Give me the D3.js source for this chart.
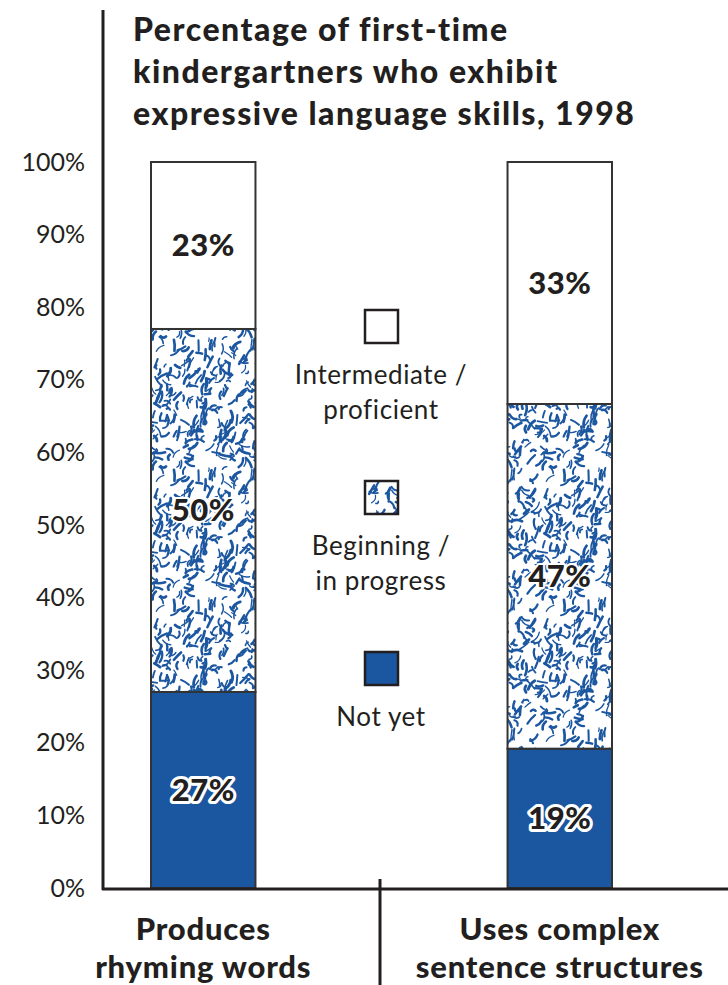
<!DOCTYPE html>
<html><head><meta charset="utf-8">
<script src="https://cdn.jsdelivr.net/npm/d3@7"></script>
<style>
html,body{margin:0;padding:0;background:#fff;}
svg{display:block;font-family:Lato,"Open Sans",sans-serif;}
</style></head>
<body>
<svg id="chart" width="728" height="985"></svg>
<script>
const categories = [["Produces", "rhyming words"], ["Uses complex", "sentence structures"]];
const seriesKeys = ["Not yet", "Beginning / in progress", "Intermediate / proficient"];
const notYet = [27, 19];
const beginning = [50, 47];
const intermediate = [23, 33];
const yTicks = [0, 10, 20, 30, 40, 50, 60, 70, 80, 90, 100];
const titleLines = ["Percentage of first-time", "kindergartners who exhibit", "expressive language skills, 1998"];
const legendLabels = [["Intermediate /", "proficient"], ["Beginning /", "in progress"], ["Not yet"]];

const blue = "#1b56a0";
const ink = "#231f20";
const svg = d3.select("#chart");

// Pattern for "Beginning / in progress"
const T = 130;
const defs = svg.append("defs");
const pat = defs.append("pattern").attr("id", "speckle").attr("patternUnits", "userSpaceOnUse")
  .attr("width", T).attr("height", T);
pat.append("rect").attr("width", T).attr("height", T).attr("fill", "#fff");
let seed = 12345;
function rnd() { seed = (seed * 16807) % 2147483647; return (seed - 1) / 2147483646; }
for (let i = 0; i < 300; i++) {
  const x = rnd() * T, y = rnd() * T;
  const r = rnd();
  const a = (r < 0.55 ? -1.05 : (r < 0.8 ? 0.5 : 2.0)) + (rnd() - 0.5) * 1.2;
  const len = 3 + rnd() * 9;
  const bend = (rnd() - 0.5) * 6;
  const x2 = x + Math.cos(a) * len, y2 = y + Math.sin(a) * len;
  const mx = (x + x2) / 2 - Math.sin(a) * bend, my = (y + y2) / 2 + Math.cos(a) * bend;
  const w = 1.1 + rnd() * 1.8;
  [-T, 0, T].forEach(dx => [-T, 0, T].forEach(dy => {
    pat.append("path").attr("d", `M${x+dx},${y+dy}Q${mx+dx},${my+dy} ${x2+dx},${y2+dy}`)
      .attr("fill", "none").attr("stroke", blue).attr("stroke-width", w).attr("stroke-linecap", "round");
  }));
}

const fills = [blue, "url(#speckle)", "#fff"];

const data = categories.map((c, i) => ({
  cat: i, "Not yet": notYet[i], "Beginning / in progress": beginning[i], "Intermediate / proficient": intermediate[i]
}));
const stack = d3.stack().keys(seriesKeys).offset(d3.stackOffsetExpand);
const layers = stack(data);

const y = d3.scaleLinear().domain([0, 1]).range([888, 162]);
const x = d3.scaleBand().domain([0, 1]).range([151, 612]).paddingInner(0.707).paddingOuter(0);

// bars
layers.forEach((layer, li) => {
  svg.append("g").selectAll("rect").data(layer).join("rect")
    .attr("x", d => x(d.data.cat))
    .attr("width", x.bandwidth())
    .attr("y", d => y(d[1]))
    .attr("height", d => y(d[0]) - y(d[1]))
    .attr("fill", fills[li])
    .attr("stroke", "#333").attr("stroke-width", 2);
});

// value labels
const valuesBy = [notYet, beginning, intermediate];
layers.forEach((layer, li) => {
  const g = svg.append("g");
  layer.forEach((d, i) => {
    const cx = x(d.data.cat) + x.bandwidth() / 2;
    const cy = (y(d[0]) + y(d[1])) / 2 + 11;
    const t = g.append("text").attr("x", cx).attr("y", cy).attr("text-anchor", "middle")
      .attr("font-size", 31).attr("font-weight", 900).attr("letter-spacing", 0.5).attr("fill", ink)
      .text(valuesBy[li][i] + "%");
    if (li === 0) t.attr("stroke", "#fff").attr("stroke-width", 6).attr("paint-order", "stroke").attr("stroke-linejoin", "round");
    if (li === 1) t.attr("stroke", "#fff").attr("stroke-width", 4).attr("paint-order", "stroke").attr("stroke-linejoin", "round");
  });
});

// y axis
const yAxisG = svg.append("g").attr("transform", "translate(103,0)")
  .call(d3.axisLeft(d3.scaleLinear().domain([0, 100]).range([888, 162])).tickValues(yTicks).tickFormat(d => d + "%").tickSize(0).tickPadding(18));
yAxisG.select(".domain").remove();
yAxisG.selectAll("text").attr("font-size", 25).attr("fill", ink).attr("font-family", "Lato, sans-serif").attr("dy", "0.32em");

// axis lines
svg.append("line").attr("x1", 103).attr("x2", 103).attr("y1", 10).attr("y2", 890).attr("stroke", ink).attr("stroke-width", 3);
svg.append("line").attr("x1", 102).attr("x2", 728).attr("y1", 889).attr("y2", 889).attr("stroke", ink).attr("stroke-width", 3);
svg.append("line").attr("x1", 380).attr("x2", 380).attr("y1", 879).attr("y2", 985).attr("stroke", ink).attr("stroke-width", 3);

// title
const title = svg.append("text").attr("x", 133).attr("font-size", 32).attr("font-weight", 900)
  .attr("letter-spacing", 1.5).attr("fill", ink);
titleLines.forEach((l, i) => title.append("tspan").attr("x", 133).attr("y", 41 + i * 42).text(l));

// category labels
categories.forEach((c, i) => {
  const cx = x(i) + x.bandwidth() / 2;
  const t = svg.append("text").attr("text-anchor", "middle").attr("font-size", 31).attr("font-weight", 900)
    .attr("letter-spacing", 0.8).attr("fill", ink);
  c.forEach((l, j) => t.append("tspan").attr("x", cx).attr("y", 940 + j * 38).text(l));
});

// legend
const legendFills = ["#fff", "url(#speckle)", blue];
const legendTops = [310, 481, 652];
legendLabels.forEach((lines, i) => {
  svg.append("rect").attr("x", 365).attr("y", legendTops[i]).attr("width", 33).attr("height", 33)
    .attr("fill", legendFills[i]).attr("stroke", ink).attr("stroke-width", 2.5);
  const t = svg.append("text").attr("text-anchor", "middle").attr("font-size", 26).attr("letter-spacing", 0.6).attr("fill", ink);
  lines.forEach((l, j) => t.append("tspan").attr("x", 381).attr("y", legendTops[i] + 74 + j * 35).text(l));
});
</script>
</body></html>
